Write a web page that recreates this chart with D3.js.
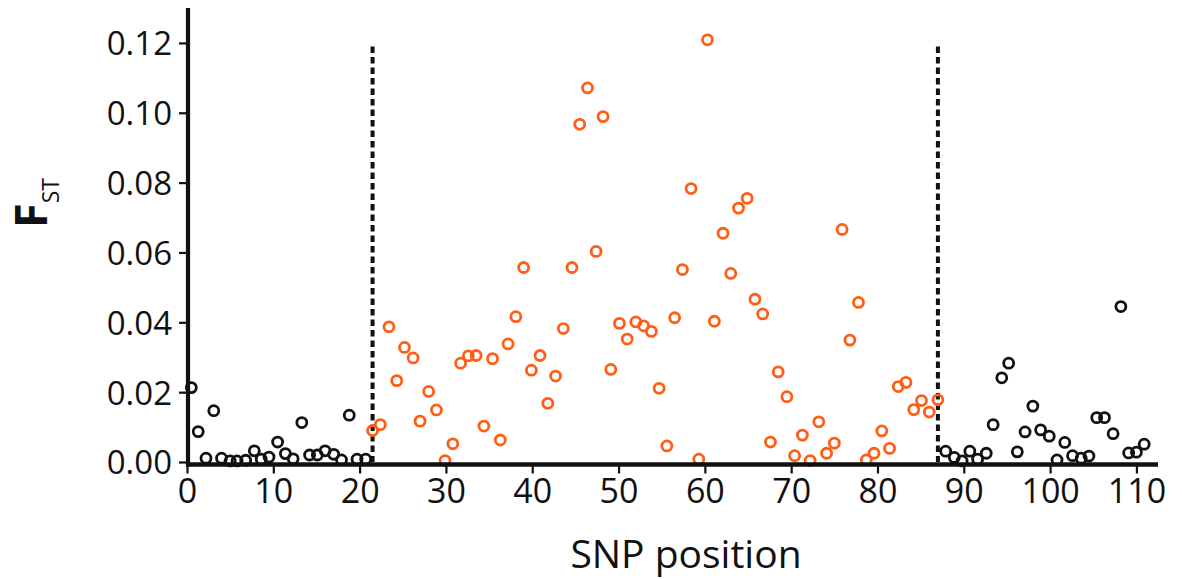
<!DOCTYPE html>
<html>
<head>
<meta charset="utf-8">
<script src="https://cdn.jsdelivr.net/npm/d3@7"></script>
<style>
  html, body { margin: 0; padding: 0; background: #fff; }
  svg { display: block; }
  text { font-family: "Open Sans", "DejaVu Sans", sans-serif; fill: #111; }
</style>
</head>
<body>
<svg id="chart" width="1182" height="579"></svg>
<script>
// ---- data ----
const leftPos = [0.5,1.3,2.2,3.1,4.0,5.0,5.8,6.8,7.8,8.6,9.5,10.5,11.4,12.3,13.3,14.2,15.1,16.0,17.0,17.9,18.8,19.7,20.7];
const leftFst = [0.0213,0.0087,0.0011,0.0147,0.0011,0.0003,0.0003,0.0005,0.0032,0.0008,0.0014,0.0057,0.0024,0.0009,0.0113,0.0020,0.0020,0.0032,0.0022,0.0006,0.0134,0.0008,0.0008];

const midPos = [21.5,22.4,23.4,24.3,25.2,26.2,27.0,28.0,28.9,29.9,
  30.8,31.7,32.6,33.5,34.4,35.4,36.3,37.2,38.1,39.0,39.9,
  40.9,41.8,42.7,43.6,44.6,45.5,46.4,47.4,48.2,49.1,
  50.1,51.0,52.0,52.9,53.8,54.7,55.6,56.5,57.4,58.4,59.3,
  60.3,61.1,62.1,63.0,63.9,64.9,65.8,66.7,67.6,68.5,69.5,
  70.4,71.3,72.2,73.2,74.1,75.0,75.9,76.8,77.8,78.7,79.6,
  80.5,81.4,82.4,83.3,84.2,85.1,86.0,87.0];
const midFst = [0.0090,0.0107,0.0387,0.0233,0.0328,0.0298,0.0117,0.0202,0.0149,0.0004,
  0.0052,0.0283,0.0304,0.0305,0.0103,0.0296,0.0063,0.0338,0.0416,0.0557,0.0263,
  0.0305,0.0168,0.0246,0.0382,0.0557,0.0967,0.1071,0.0603,0.0989,0.0265,
  0.0397,0.0352,0.0401,0.0390,0.0374,0.0211,0.0046,0.0413,0.0551,0.0783,0.0008,
  0.1209,0.0403,0.0655,0.0540,0.0727,0.0755,0.0466,0.0424,0.0057,0.0258,0.0187,
  0.0018,0.0077,0.0004,0.0115,0.0025,0.0054,0.0666,0.0349,0.0457,0.0006,0.0025,
  0.0089,0.0039,0.0216,0.0228,0.0150,0.0176,0.0143,0.0178];

const rightPos = [87.9,88.9,89.8,90.7,91.6,92.6,93.4,94.4,95.2,96.2,97.1,98.0,98.9,99.9,100.8,101.7,102.6,103.6,104.5,105.4,106.3,107.3,108.2,109.1,110.0,110.9];
const rightFst = [0.0031,0.0013,0.0003,0.0031,0.0008,0.0025,0.0107,0.0241,0.0283,0.0029,0.0086,0.0160,0.0092,0.0074,0.0006,0.0056,0.0018,0.0011,0.0017,0.0127,0.0127,0.0081,0.0445,0.0026,0.0028,0.0051];

const dividers = [21.5, 87.0];
const dividerTop = 0.119;
const xTicks = [0,10,20,30,40,50,60,70,80,90,100,110];
const yTicks = [0,0.02,0.04,0.06,0.08,0.10,0.12];

// ---- scales ----
const svg = d3.select("#chart");
const x = d3.scaleLinear().domain([0, 112.5]).range([187, 1158]);
const y = d3.scaleLinear().domain([0, 0.13]).range([462, 8]);

const orange = "#ff5e14";
const black = "#111111";

// divider dashed lines
svg.append("g").selectAll("line").data(dividers).join("line")
  .attr("x1", d => x(d)).attr("x2", d => x(d))
  .attr("y1", y(dividerTop)).attr("y2", y(0))
  .attr("stroke", black).attr("stroke-width", 4)
  .attr("stroke-dasharray", "6.5,4");

// points
function drawPoints(pos, fst, color) {
  const data = pos.map((p, i) => ({p, f: fst[i]}));
  svg.append("g").selectAll("circle").data(data).join("circle")
    .attr("cx", d => x(d.p)).attr("cy", d => y(d.f))
    .attr("r", 5)
    .attr("fill", "none")
    .attr("stroke", color)
    .attr("stroke-width", 2.8);
}
drawPoints(leftPos, leftFst, black);
drawPoints(midPos, midFst, orange);
drawPoints(rightPos, rightFst, black);

// y axis
const yAxis = d3.axisLeft(y).tickValues(yTicks).tickFormat(d3.format(".2f"))
  .tickSize(9).tickSizeOuter(0).tickPadding(7);
const gy = svg.append("g").attr("transform", `translate(${x(0) + 1},0)`).call(yAxis);
gy.select(".domain").remove();
gy.selectAll(".tick line").attr("stroke", black).attr("stroke-width", 2.2);
gy.selectAll(".tick text").style("font-size", "33px").attr("dy", "0.36em").attr("fill", black);
svg.append("line")
  .attr("x1", x(0) + 1).attr("x2", x(0) + 1)
  .attr("y1", y(0.13)).attr("y2", y(0) + 4.5)
  .attr("stroke", black).attr("stroke-width", 4.2);

// x axis
const xAxis = d3.axisBottom(x).tickValues(xTicks).tickFormat(d3.format("d"))
  .tickSize(9).tickSizeOuter(0).tickPadding(5);
const gx = svg.append("g").attr("transform", `translate(0,${y(0) + 2.5})`).call(xAxis);
gx.select(".domain").remove();
gx.selectAll(".tick line").attr("stroke", black).attr("stroke-width", 2.2);
gx.selectAll(".tick text").style("font-size", "34px").attr("fill", black);
svg.append("line")
  .attr("x1", x(0) - 1).attr("x2", x.range()[1])
  .attr("y1", y(0) + 2.5).attr("y2", y(0) + 2.5)
  .attr("stroke", black).attr("stroke-width", 4.5);

// axis titles
svg.append("text")
  .attr("x", 686).attr("y", 568)
  .attr("text-anchor", "middle")
  .style("font-size", "39px")
  .text("SNP position");

const yt = svg.append("text")
  .attr("transform", "translate(47,228) rotate(-90)")
  .attr("text-anchor", "start");
yt.append("tspan").style("font-size", "45px").style("font-weight", "bold").text("F");
yt.append("tspan").style("font-size", "23px").attr("dy", 12).text("ST");
</script>
</body>
</html>
